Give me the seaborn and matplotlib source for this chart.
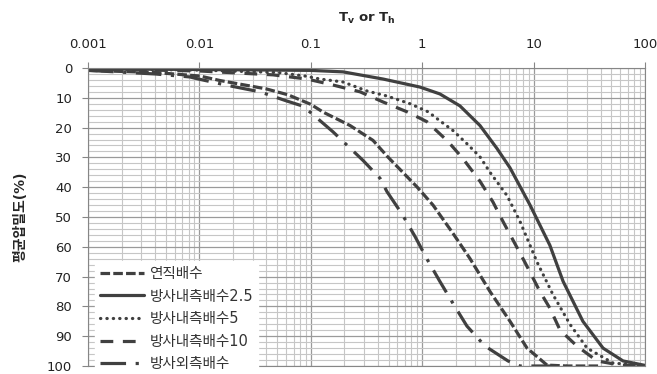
import matplotlib
matplotlib.use('Agg')
import matplotlib.pyplot as plt
import seaborn as sns
from matplotlib.ticker import LogLocator, MultipleLocator, NullFormatter

# values (time factor T, average consolidation U %)
t_vertical = [0.001, 0.004, 0.0101, 0.0153, 0.0222, 0.0397, 0.0625, 0.1, 0.129, 0.225,
              0.362, 0.493, 0.898, 1.25, 1.89, 2.69, 4.06, 6.14, 8.73, 13.2, 20, 40]
u_vertical = [0.8, 1.5, 2.7, 4.2, 5.3, 7.0, 9.0, 12.2, 14.8, 19.3,
              24.3, 29.9, 39.9, 46.0, 55.5, 64.0, 75.0, 85.0, 94.0, 99.7, 100, 100]

t_inner25 = [0.001, 0.01, 0.1, 0.195, 0.445, 0.955, 1.44, 2.18, 3.30, 4.69,
             6.14, 9.29, 14.0, 18.4, 27.7, 42.0, 63.5, 100]
u_inner25 = [0.3, 0.5, 0.8, 1.3, 3.7, 6.4, 8.7, 12.7, 19.3, 27.0,
             33.5, 46.0, 59.5, 71.6, 85.0, 94.0, 98.3, 99.8]

t_inner5 = [0.001, 0.01, 0.05, 0.089, 0.121, 0.195, 0.319, 0.483, 0.778, 1.13,
            1.44, 1.89, 2.52, 3.30, 4.06, 5.77, 7.55, 9.29, 10.7, 14.9,
            21.2, 30.2, 51.6, 100]
u_inner5 = [0.3, 0.7, 1.5, 2.7, 3.7, 4.7, 7.7, 9.4, 12.0, 14.7,
            17.7, 21.0, 25.4, 29.8, 35.0, 42.8, 51.5, 59.5, 65.0, 76.0,
            86.0, 94.0, 99.0, 100]

t_inner10 = [0.001, 0.01, 0.0458, 0.0925, 0.158, 0.277, 0.445, 0.731, 1.10, 1.71,
             2.32, 3.30, 4.32, 5.31, 6.81, 8.3, 11.4, 14.0, 17.3, 24.5,
             37.1, 60, 100]
u_inner10 = [0.3, 1.0, 2.3, 3.7, 5.7, 8.0, 11.4, 14.7, 18.0, 24.7,
             30.4, 38.0, 45.0, 51.5, 59.0, 65.0, 75.0, 80.6, 88.0, 93.3,
             98.3, 99.7, 100]

t_outer = [0.001, 0.004, 0.0082, 0.0101, 0.0177, 0.035, 0.06, 0.085, 0.1, 0.158,
           0.239, 0.294, 0.418, 0.483, 0.659, 0.861, 1.10, 1.44, 1.89, 2.52,
           3.66, 5.89, 7.55, 20]
u_outer = [0.8, 2.0, 3.0, 3.8, 5.8, 8.0, 11.0, 12.8, 15.0, 21.4,
           27.8, 31.0, 37.0, 41.5, 49.0, 56.5, 64.0, 71.6, 79.0, 86.6,
           93.3, 98.3, 100, 100]

labels = ['연직배수', '방사내측배수2.5', '방사내측배수5', '방사내측배수10', '방사외측배수']
xticks = [0.001, 0.01, 0.1, 1, 10, 100]
xtick_labels = ['0.001', '0.01', '0.1', '1', '10', '100']

LINE = '#404040'
GRAY = '#868686'

sns.set_style('white')
plt.rcParams['font.family'] = ['DejaVu Sans', 'Noto Sans CJK KR']
plt.rcParams['text.color'] = '#222222'
plt.rcParams['xtick.color'] = '#222222'
plt.rcParams['ytick.color'] = '#222222'

fig, ax = plt.subplots(figsize=(6.57, 3.74), dpi=100)
fig.subplots_adjust(left=88/657, right=645/657, top=1-68/374, bottom=1-366/374)

styles = [
    dict(linestyle=(0, (3, 1))),
    dict(linestyle='-'),
    dict(linestyle=(0, (0.1, 1.9)), dash_capstyle='round'),
    dict(linestyle=(0, (4, 3))),
    dict(linestyle=(0, (8, 3, 1, 3))),
]
data = [(t_vertical, u_vertical), (t_inner25, u_inner25), (t_inner5, u_inner5),
        (t_inner10, u_inner10), (t_outer, u_outer)]

for (t, u), name, st in zip(data, labels, styles):
    sns.lineplot(x=t, y=u, ax=ax, label=name, color=LINE, lw=2.3,
                 errorbar=None, sort=False, **st)

ax.set_xscale('log')
ax.set_xlim(0.001, 100)
ax.set_ylim(100, 0)

ax.xaxis.tick_top()
ax.xaxis.set_label_position('top')
ax.set_xticks(xticks)
ax.set_xticklabels(xtick_labels)
ax.xaxis.set_minor_locator(LogLocator(base=10, subs=range(2, 10), numticks=20))
ax.xaxis.set_minor_formatter(NullFormatter())
ax.yaxis.set_major_locator(MultipleLocator(10))
ax.yaxis.set_minor_locator(MultipleLocator(2))

ax.set_axisbelow(True)
ax.grid(which='major', color='#9a9a9a', lw=0.9)
ax.grid(which='minor', color='#c6c6c6', lw=0.8)

ax.tick_params(which='major', direction='out', length=4.5, width=0.8, color=GRAY,
               labelsize=9.5)
ax.tick_params(axis='x', which='major', pad=8)
ax.tick_params(axis='y', which='major', pad=7, left=True)
ax.tick_params(which='minor', length=0)
for sp in ax.spines.values():
    sp.set_color(GRAY)
    sp.set_linewidth(0.8)

ax.set_xlabel(r'T$_\mathbf{v}$ or T$_\mathbf{h}$', fontweight='bold', fontsize=9.5, labelpad=11)
ax.set_ylabel('평균압밀도(%)', fontweight='bold', fontsize=10, labelpad=14)

leg = ax.legend(loc='lower left', bbox_to_anchor=(0.012, -0.035), frameon=True, fancybox=False,
                edgecolor='white', facecolor='white', framealpha=1, fontsize=10.5,
                handlelength=3.0, handletextpad=0.4, labelspacing=0.52,
                borderpad=0.35, borderaxespad=0)
for txt in leg.get_texts():
    txt.set_color('#333333')

plt.savefig('out.png', dpi=100)
